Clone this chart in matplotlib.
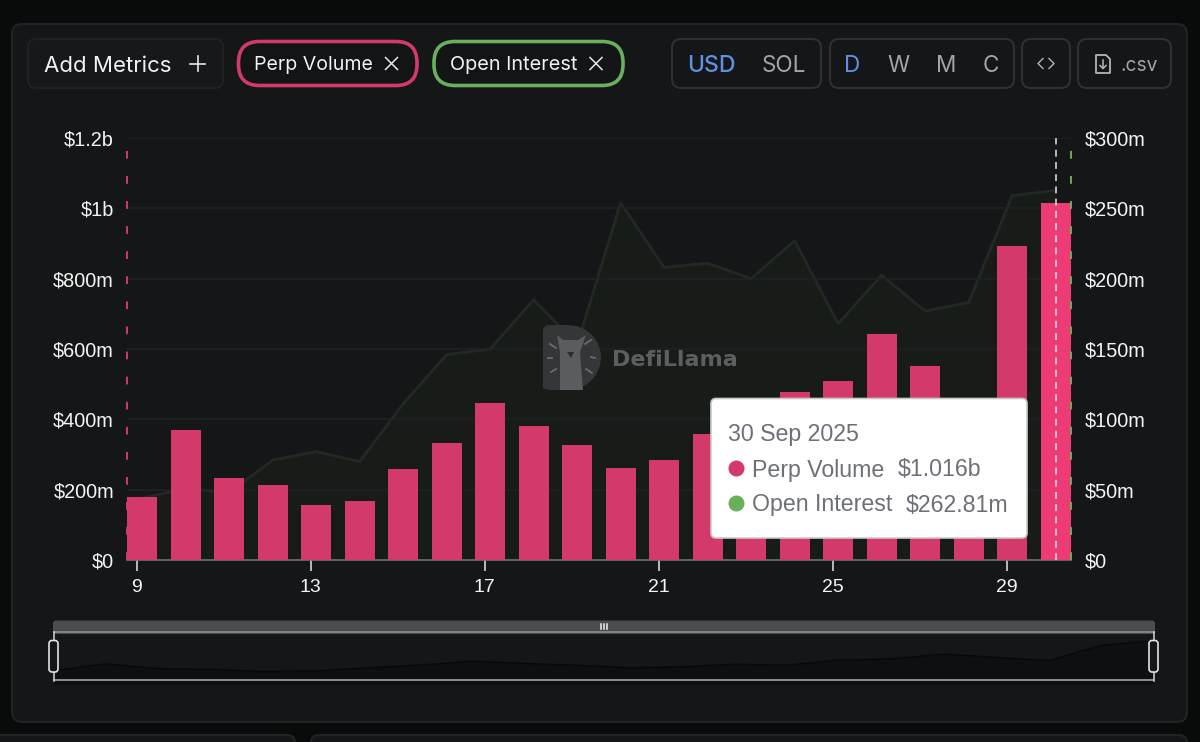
import matplotlib
matplotlib.use("Agg")
import matplotlib.pyplot as plt
from matplotlib.patches import FancyBboxPatch, Rectangle, Circle, PathPatch, Polygon
from matplotlib.path import Path

# ---------- data ----------
days = [9, 10, 11, 12, 13, 14, 15, 16, 17, 18, 19, 20, 21, 22, 23, 24, 25, 26, 27, 28, 29, 30]
perp_volume_m = [179, 370, 233, 213, 156, 168, 259, 333, 446, 381, 327, 262, 284, 358, 330, 478,
                 509, 643, 552, 460, 893, 1016]
open_interest_m = [44, 51, 48, 71, 77, 70, 111, 146, 150, 185, 153, 254, 208, 211, 200, 227,
                   168, 202.5, 177, 183, 259, 262.81]
x_ticks = [9, 13, 17, 21, 25, 29]
left_ticks = [0, 200, 400, 600, 800, 1000, 1200]
left_labels = ["$0", "$200m", "$400m", "$600m", "$800m", "$1b", "$1.2b"]
right_ticks = [0, 50, 100, 150, 200, 250, 300]
right_labels = ["$0", "$50m", "$100m", "$150m", "$200m", "$250m", "$300m"]

# ---------- style ----------
W, H = 1200, 742
OUTER = "#090b0b"
PANEL = "#141618"
EDGE = "#212326"
PINK = "#d33a69"
PINK_HI = "#ec3b75"
GREEN = "#6ab05c"
SANS = "Liberation Sans"
UI = "Inter"
BAR_OFFSET = 0.125
BAR_WIDTH = 0.69

fig = plt.figure(figsize=(W / 100, H / 100), dpi=100, facecolor=OUTER)


def px_axes(l, t, r, b, **kw):
    return fig.add_axes([l / W, 1 - b / H, (r - l) / W, (b - t) / H], **kw)


# ---------- chrome behind ----------
bg = px_axes(0, 0, W, H, zorder=0)
bg.set_xlim(0, W)
bg.set_ylim(H, 0)
bg.axis("off")


def box(a, l, t, r, b, rad=8, fc=PANEL, ec=EDGE, lw=1.5, z=1):
    p = FancyBboxPatch((l + rad, t + rad), r - l - 2 * rad, b - t - 2 * rad,
                       boxstyle=f"round,pad={rad},rounding_size={rad}",
                       fc=fc, ec=ec, lw=lw, zorder=z)
    a.add_patch(p)
    return p


box(bg, 12, 24, 1187, 722, rad=10, fc=PANEL, ec="#202225", lw=1.5)
box(bg, -20, 735, 295, 780, rad=8, fc=PANEL, ec="#202225")
box(bg, 311, 735, 1187, 780, rad=8, fc=PANEL, ec="#202225")

# header controls
box(bg, 28, 39, 223, 88, rad=8, fc="#17181b", ec="#1f2124")
bg.text(44, 71.5, "Add Metrics", color="#f2f2f2", fontsize=16, family=UI, va="baseline", ha="left")
bg.plot([190, 205], [63.5, 63.5], color="#e8e8e8", lw=1.2, zorder=3)
bg.plot([197.5, 197.5], [56, 71], color="#e8e8e8", lw=1.2, zorder=3)

box(bg, 238.5, 41.5, 417, 85.5, rad=21, fc="#131416", ec=PINK, lw=2.6)
bg.text(254, 70.5, "Perp Volume", color="#f2f2f2", fontsize=14.1, family=UI, va="baseline", ha="left")
box(bg, 434, 41.5, 623, 85.5, rad=21, fc="#131416", ec=GREEN, lw=2.6)
bg.text(450, 70.5, "Open Interest", color="#f2f2f2", fontsize=14.3, family=UI, va="baseline", ha="left")
for cx in (391.5, 596):
    bg.plot([cx - 6, cx + 6], [57.5, 69.5], color="#e8e8e8", lw=1.1, zorder=3)
    bg.plot([cx - 6, cx + 6], [69.5, 57.5], color="#e8e8e8", lw=1.1, zorder=3)

box(bg, 672, 39, 821, 88, rad=9, fc="#141618", ec="#2e3032")
box(bg, 830, 39, 1014, 88, rad=9, fc="#141618", ec="#2e3032")
box(bg, 1022, 39, 1070, 88, rad=9, fc="#141618", ec="#2e3032")
box(bg, 1078, 39, 1171, 88, rad=9, fc="#141618", ec="#2e3032")
BLUE = "#5f90e2"
GREY = "#a3a4a5"
bg.text(711, 71.5, "USD", color=BLUE, fontsize=16.6, family=UI, va="baseline", ha="center", weight="medium")
bg.text(784, 71.5, "SOL", color=GREY, fontsize=16.2, family=UI, va="baseline", ha="center")
for label, cx, col in (("D", 852, BLUE), ("W", 898, GREY), ("M", 946, GREY), ("C", 991, GREY)):
    bg.text(cx, 71.5, label, color=col, fontsize=16.2, family=UI, va="baseline", ha="center")
bg.plot([1043, 1038, 1043], [58.5, 63.5, 68.5], color="#b5b5b5", lw=1.0, zorder=3)
bg.plot([1049, 1054, 1049], [58.5, 63.5, 68.5], color="#b5b5b5", lw=1.0, zorder=3)
bg.add_patch(Polygon([(1096, 55), (1106, 55), (1110, 59), (1110, 73), (1096, 73)], closed=True,
                     fc="none", ec="#b5b5b5", lw=1.3, joinstyle="round", zorder=3))
bg.plot([1103, 1103], [60, 68], color="#b5b5b5", lw=1.1, zorder=3)
bg.plot([1100, 1103, 1106], [65.5, 68.5, 65.5], color="#b5b5b5", lw=1.1, zorder=3)
bg.text(1120, 71, ".csv", color=GREY, fontsize=13.8, family=UI, va="baseline", ha="left")

# ---------- main chart ----------
XL = 9 - 9.7 / 43.5
XR = 9 + (1071 - 136.7) / 43.5

ax2 = px_axes(127, 138, 1071, 560, zorder=1)
ax2.patch.set_visible(False)
ax = px_axes(127, 138, 1071, 560, zorder=2)
ax.patch.set_visible(False)

x_pos = [d + BAR_OFFSET for d in days]

ax2.set_xlim(XL, XR)
ax2.set_ylim(0, 300)
ax2.fill_between(x_pos, open_interest_m, 0, color="#181c19", lw=0, zorder=1)
ax2.plot(x_pos, open_interest_m, color="#222925", lw=2.0, zorder=2)
ax2.set_xticks([])
ax2.yaxis.tick_right()
ax2.set_yticks(right_ticks)
ax2.set_yticklabels(right_labels, color="#f4f4f4", fontsize=14.3, family=SANS)
ax2.tick_params(axis="y", length=0, pad=10)
for s in ax2.spines.values():
    s.set_visible(False)

ax.set_xlim(XL, XR)
ax.set_ylim(0, 1200)
ax.grid(axis="y", color="#1f2224", lw=1.2, zorder=0)
ax.set_axisbelow(True)
colors = [PINK] * (len(days) - 1) + [PINK_HI]
ax.bar(x_pos, perp_volume_m, width=BAR_WIDTH, color=colors, lw=0, zorder=3)
ax.set_xticks(x_ticks)
ax.set_xticklabels([str(t) for t in x_ticks], color="#f4f4f4", fontsize=14, family=SANS)
ax.tick_params(axis="x", length=8, width=1.1, color="#e6e6e6", pad=6)
ax.set_yticks(left_ticks)
ax.set_yticklabels(left_labels, color="#f4f4f4", fontsize=14.3, family=SANS)
ax.tick_params(axis="y", length=0, pad=9.4)
for k in ("top", "left", "right"):
    ax.spines[k].set_visible(False)
ax.spines["bottom"].set_color("#6e7079")
ax.spines["bottom"].set_linewidth(1.2)
ax.axvline(XL, color=PINK, lw=1.4, ls=(0, (4.0, 8.9)), zorder=4, clip_on=False)
ax.axvline(XR, color=GREEN, lw=1.4, ls=(0, (4.0, 8.9)), zorder=4, clip_on=False)
ax.axvline(days[-1] + BAR_OFFSET, color="#e4e4e4", lw=1.1, ls=(0, (4.5, 3.5)), zorder=5)

# ---------- brush / mini chart ----------
mini = px_axes(53.5, 641, 1153.5, 677, zorder=1)
mini.patch.set_visible(False)
mini.set_xlim(days[0], days[-1])
mini.set_ylim(0, max(perp_volume_m))
mini.fill_between(days, perp_volume_m, -200, color="#0e0f11", lw=0, clip_on=False)
mini.plot(days, perp_volume_m, color="#08090a", lw=1.2, clip_on=False)
mini.axis("off")

# ---------- overlay ----------
top = px_axes(0, 0, W, H, zorder=5)
top.set_xlim(0, W)
top.set_ylim(H, 0)
top.axis("off")
top.patch.set_visible(False)

# brush
box(top, 53, 620.5, 1155, 634, rad=3, fc="#4a4c4e", ec="none", lw=0, z=1)
top.add_patch(Rectangle((53, 631), 1102, 2, fc="#808284", ec="none", zorder=2))
top.add_patch(Rectangle((53, 679.3), 1101, 1.6, fc="#8a8c8e", ec="none", zorder=2))
top.plot([53.5, 53.5], [632, 681], color="#d8d8d8", lw=1.1, zorder=2)
top.plot([1153.5, 1153.5], [632, 681], color="#d8d8d8", lw=1.1, zorder=2)
for cx in (53.5, 1153.5):
    box(top, cx - 4.5, 640.5, cx + 4.5, 672, rad=3, fc="#151618", ec="#e2e2e2", lw=1.2, z=3)
for cx in (601, 604, 607):
    top.plot([cx, cx], [623.5, 628.5], color="#f0f0f0", lw=1.1, zorder=3)

# watermark
verts = [(551, 325), (566, 325), (592, 325), (601, 345), (601, 357), (601, 370), (592, 390), (566, 390),
         (551, 390), (547, 390), (543, 388), (543, 384), (543, 331), (543, 327), (547, 325), (551, 325)]
codes = [Path.MOVETO, Path.LINETO, Path.CURVE4, Path.CURVE4, Path.CURVE4, Path.CURVE4, Path.CURVE4, Path.CURVE4,
         Path.LINETO, Path.CURVE3, Path.CURVE3, Path.LINETO, Path.LINETO, Path.CURVE3, Path.CURVE3, Path.CLOSEPOLY]
top.add_patch(PathPatch(Path(verts, codes), fc="#353637", ec="none", zorder=1))
top.add_patch(Polygon([(560, 390), (560, 352), (557, 335), (563, 340), (578, 340), (586, 335), (580, 352),
                       (583, 390)], closed=True, fc="#5b5c5d", ec="none", zorder=2))
top.add_patch(Polygon([(567, 352), (574, 352), (571, 358)], closed=True, fc="#2b2c2d", ec="none", zorder=3))
for x0, y0, x1, y1 in ((550, 344, 556, 348), (548, 358, 552, 358), (551, 372, 556, 369),
                       (585, 344, 591, 340), (591, 357, 595, 358), (586, 369, 592, 373)):
    top.plot([x0, x1], [y0, y1], color="#6a6b6c", lw=1.3, zorder=3)
top.text(612, 360, "DefiLlama", color="#5d5e5f", fontsize=16, family="DejaVu Sans", weight="bold",
         va="center", ha="left", zorder=2)

# tooltip
box(top, 711, 398.5, 1027, 538, rad=5, fc="#ffffff", ec="#c9c9c9", lw=1.2, z=5)
TIP = "#6e7079"
FS = 16.7
top.text(728, 441.5, "30 Sep 2025", color=TIP, fontsize=FS, family=SANS, va="baseline", ha="left", zorder=6)
top.add_patch(Circle((736.5, 468.5), 8, fc=PINK, ec="none", zorder=6))
top.text(752, 476.5, "Perp Volume", color=TIP, fontsize=FS, family=SANS, va="baseline", ha="left", zorder=6)
top.text(898, 476.5, "$1.016b", color=TIP, fontsize=FS, family=SANS, va="baseline", ha="left", zorder=6)
top.add_patch(Circle((736.5, 503.5), 8, fc=GREEN, ec="none", zorder=6))
top.text(752, 511.5, "Open Interest", color=TIP, fontsize=FS, family=SANS, va="baseline", ha="left", zorder=6)
top.text(906, 511.5, "$262.81m", color=TIP, fontsize=FS, family=SANS, va="baseline", ha="left", zorder=6)

fig.savefig("out.png", dpi=100, facecolor=OUTER)
